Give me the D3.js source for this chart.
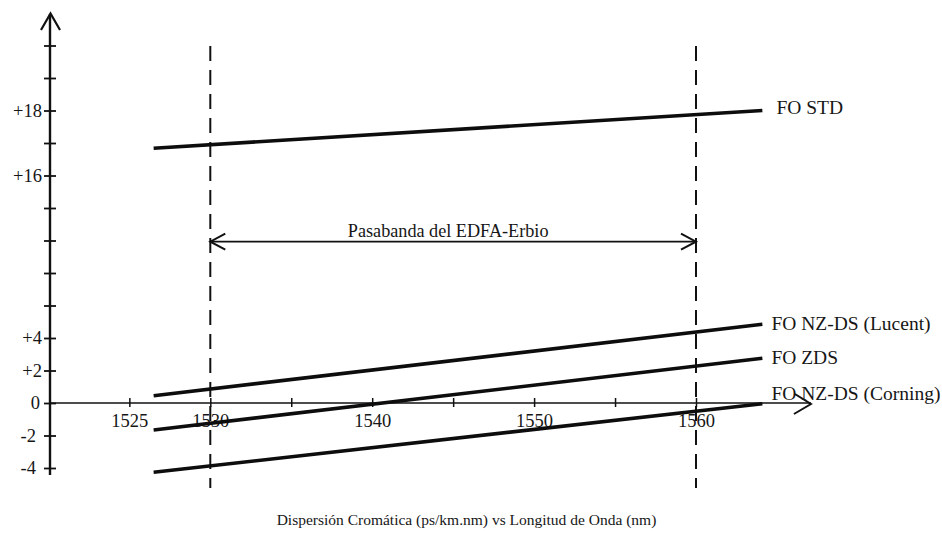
<!DOCTYPE html>
<html>
<head>
<meta charset="utf-8">
<script src="https://cdn.jsdelivr.net/npm/d3@7"></script>
<style>
  body { margin: 0; background: #fff; }
  svg { display: block; }
  text { font-family: "Liberation Serif", "Times New Roman", serif; fill: #161616; }
</style>
</head>
<body>
<div id="chart"></div>
<script>
// Fibre types and their dispersion (ps/km.nm) at the start / end wavelength
const series = ["FO STD", "FO NZ-DS (Lucent)", "FO ZDS", "FO NZ-DS (Corning)"];
const lambdaRange = [1526.5, 1564.1];
const startValues = [16.84, 0.45, -1.66, -4.26];
const endValues = [18.0, 4.85, 2.75, -0.05];

// axis ticks (the y axis is broken between +12 and +16)
const xTicks = [1525, 1530, 1535, 1540, 1545, 1550, 1555, 1560];
const xLabels = [1525, 1530, 1540, 1550, 1560];
const yTicks = [-4, -2, 0, 2, 4, 6, 8, 10, 12, 16, 17, 18, 19, 20];
const yLabels = [-4, -2, 0, 2, 4, 16, 18];

// EDFA passband
const passband = [1530, 1560];
const passbandText = "Pasabanda del EDFA-Erbio";
const title = "Dispersión Cromática (ps/km.nm) vs Longitud de Onda (nm)";

const width = 942, height = 536;

const svg = d3.select("#chart").append("svg")
    .attr("width", width)
    .attr("height", height);

svg.append("rect").attr("width", width).attr("height", height).attr("fill", "#fff");

// scales
const x = d3.scaleLinear().domain([1520, 1560]).range([48.4, 696]);
const y = d3.scaleLinear()
    .domain([-4, 12, 16, 20])
    .range([468, 208, 175.5, 45.5]);

const x0 = 50;   // y axis position
const y0 = y(0); // x axis position

// passband dashed verticals
svg.selectAll(".band-edge")
    .data(passband)
    .join("line")
    .attr("class", "band-edge")
    .attr("x1", d => x(d)).attr("x2", d => x(d))
    .attr("y1", 46).attr("y2", 488)
    .attr("stroke", "#111")
    .attr("stroke-width", 2)
    .attr("stroke-dasharray", "15 9");

// x axis
const xAxis = d3.axisBottom(x)
    .tickValues(xTicks)
    .tickSize(4)
    .tickPadding(7)
    .tickFormat(d => xLabels.includes(d) ? d : "");

const xAxisG = svg.append("g")
    .attr("transform", `translate(0,${y0})`)
    .call(xAxis);
xAxisG.select(".domain").remove();
xAxisG.selectAll(".tick line").attr("y1", -5).attr("stroke", "#111").attr("stroke-width", 1.5);
xAxisG.selectAll(".tick text")
    .style("font-family", '"Liberation Serif", "Times New Roman", serif')
    .style("font-size", "18.5px")
    .attr("fill", "#161616");

const xEnd = x(1567.1);
svg.append("line")
    .attr("x1", x0).attr("x2", xEnd)
    .attr("y1", y0).attr("y2", y0)
    .attr("stroke", "#111").attr("stroke-width", 1.6);
svg.append("path")
    .attr("d", `M${xEnd - 16},${y0 - 9}L${xEnd},${y0 + 1}L${xEnd - 17},${y0 + 11}`)
    .attr("fill", "none").attr("stroke", "#111").attr("stroke-width", 2);

// y axis
const yAxis = d3.axisLeft(y)
    .tickValues(yTicks)
    .tickSize(6)
    .tickPadding(2)
    .tickFormat(d => yLabels.includes(d) ? (d > 0 ? "+" + d : String(d)) : "");

const yAxisG = svg.append("g")
    .attr("transform", `translate(${x0},0)`)
    .call(yAxis);
yAxisG.select(".domain").remove();
yAxisG.selectAll(".tick line").attr("x1", 6).attr("stroke", "#111").attr("stroke-width", 1.8);
yAxisG.selectAll(".tick text")
    .style("font-family", '"Liberation Serif", "Times New Roman", serif')
    .style("font-size", "18.5px")
    .attr("fill", "#161616")
    .attr("dx", d => d < 0 ? -6 : (d === 0 ? -2 : 0));

svg.append("line")
    .attr("x1", x0).attr("x2", x0)
    .attr("y1", 14).attr("y2", 475)
    .attr("stroke", "#111").attr("stroke-width", 2.4);
svg.append("path")
    .attr("d", `M${x0 - 9},30L${x0 + 0.5},13.5L${x0 + 10},30`)
    .attr("fill", "none").attr("stroke", "#111").attr("stroke-width", 2.2);

// dispersion lines
const lines = series.map((name, i) => ({
  name: name,
  points: [[lambdaRange[0], startValues[i]], [lambdaRange[1], endValues[i]]]
}));

const line = d3.line().x(d => x(d[0])).y(d => y(d[1]));

svg.selectAll(".fibre")
    .data(lines)
    .join("path")
    .attr("class", "fibre")
    .attr("d", d => line(d.points))
    .attr("fill", "none")
    .attr("stroke", "#0d0d0d")
    .attr("stroke-width", 3.6)
    .attr("stroke-linecap", "butt");

// labels at the right end of each line (Corning sits above its line)
const labelDy = {"FO STD": 3.5, "FO NZ-DS (Lucent)": 5.7, "FO ZDS": 5.7, "FO NZ-DS (Corning)": -4};
const labelDx = {"FO STD": 14, "FO NZ-DS (Lucent)": 9, "FO ZDS": 9, "FO NZ-DS (Corning)": 9};

svg.selectAll(".fibre-label")
    .data(lines)
    .join("text")
    .attr("class", "fibre-label")
    .attr("x", d => x(d.points[1][0]) + labelDx[d.name])
    .attr("y", d => y(d.points[1][1]) + labelDy[d.name])
    .style("font-size", "19.5px")
    .text(d => d.name);

// passband double arrow
const bandY = 241.7;
const bx1 = x(passband[0]), bx2 = x(passband[1]);
svg.append("line")
    .attr("x1", bx1).attr("x2", bx2)
    .attr("y1", bandY).attr("y2", bandY)
    .attr("stroke", "#111").attr("stroke-width", 1.8);
svg.append("path")
    .attr("d", `M${bx1 + 15},${bandY - 8}L${bx1},${bandY}L${bx1 + 15},${bandY + 8}` +
               `M${bx2 - 15},${bandY - 8}L${bx2},${bandY}L${bx2 - 15},${bandY + 8}`)
    .attr("fill", "none").attr("stroke", "#111").attr("stroke-width", 2);

svg.append("text")
    .attr("x", (bx1 + bx2) / 2 - 5)
    .attr("y", bandY - 4.5)
    .attr("text-anchor", "middle")
    .style("font-size", "18.2px")
    .text(passbandText);

// bottom caption
svg.append("text")
    .attr("x", 466.5)
    .attr("y", 525)
    .attr("text-anchor", "middle")
    .style("font-size", "15.5px")
    .text(title);
</script>
</body>
</html>
